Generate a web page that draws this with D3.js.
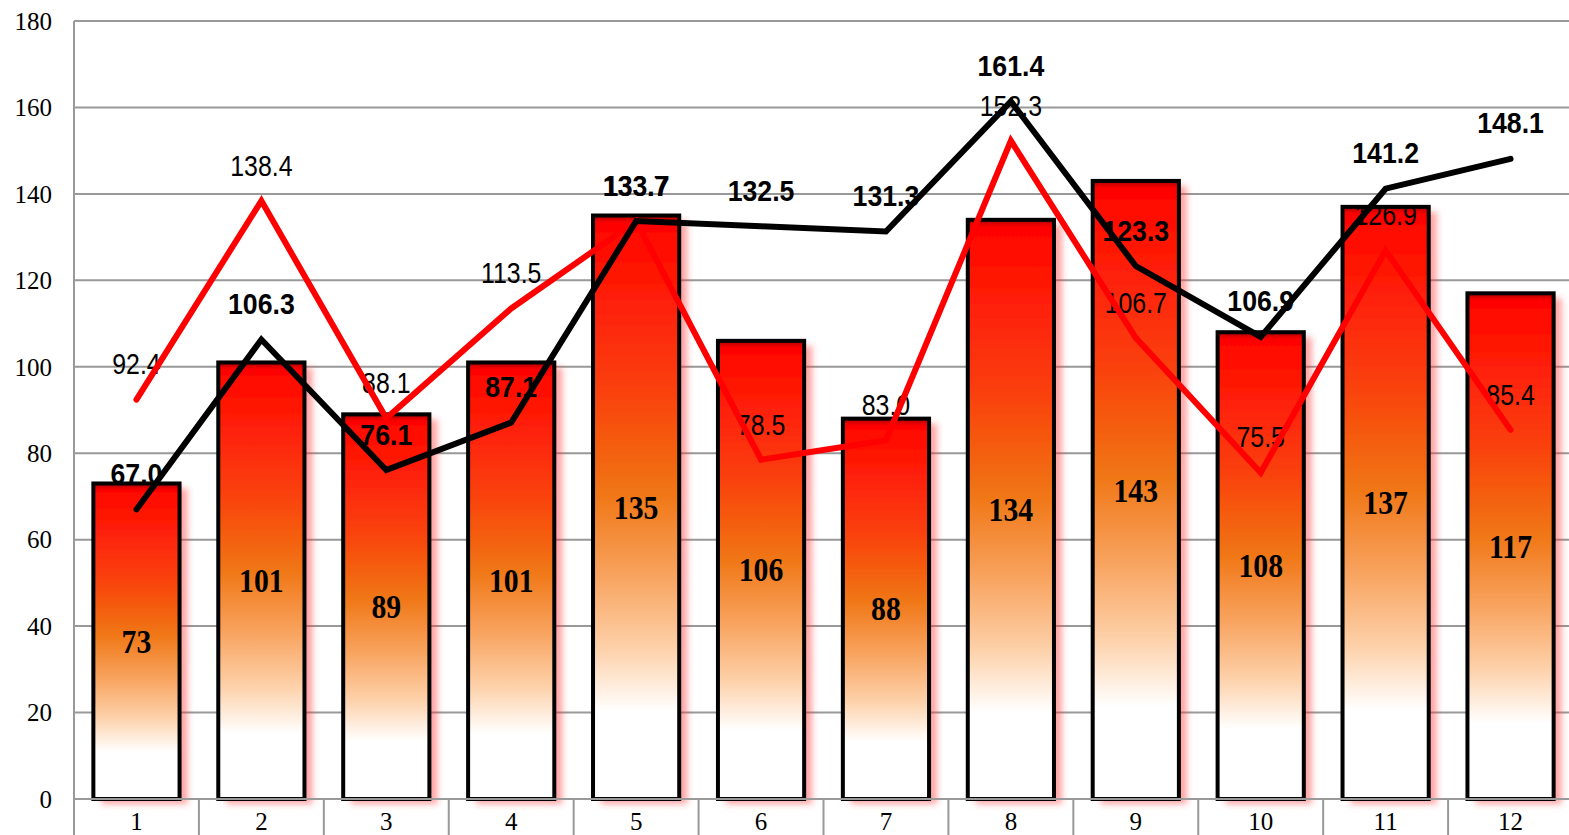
<!DOCTYPE html>
<html>
<head>
<meta charset="utf-8">
<script src="https://cdn.jsdelivr.net/npm/d3@7"></script>
<style>
  html, body { margin: 0; padding: 0; background: #fff; overflow: hidden; }
</style>
</head>
<body>
<svg id="plot"></svg>
<script>
// data
const months = ["1", "2", "3", "4", "5", "6", "7", "8", "9", "10", "11", "12"];
const barValues = [73, 101, 89, 101, 135, 106, 88, 134, 143, 108, 137, 117];
const redValues = [92.4, 138.4, 88.1, 113.5, 133.7, 78.5, 83.0, 152.3, 106.7, 75.5, 126.9, 85.4];
const blackValues = [67.0, 106.3, 76.1, 87.1, 133.7, 132.5, 131.3, 161.4, 123.3, 106.9, 141.2, 148.1];
const yTicks = [0, 20, 40, 60, 80, 100, 120, 140, 160, 180];

let width = 1569;
let height = 835;
let margin = { top: 21, bottom: 36, left: 74, right: -4 };

let svg = d3.select('#plot')
    .attr('width', width)
    .attr('height', height)
    .style('background', '#FFFFFF');

let xScale = d3.scaleBand()
    .domain(months)
    .range([margin.left, width - margin.right])
    .padding(0);

let yScale = d3.scaleLinear()
    .domain([0, 180])
    .range([height - margin.bottom, margin.top]);

let defs = svg.append('defs');

let grad = defs.append('linearGradient')
    .attr('id', 'barGrad')
    .attr('x1', 0).attr('y1', 0).attr('x2', 0).attr('y2', 1);
[[0, '#ff0000'], [0.12, '#ff1a06'], [0.3, '#fa4010'], [0.47, '#f07412'],
 [0.62, '#f8a460'], [0.74, '#fdd0a8'], [0.85, '#ffffff'], [1, '#ffffff']]
    .forEach(s => grad.append('stop').attr('offset', s[0]).attr('stop-color', s[1]));

let bevel = defs.append('linearGradient')
    .attr('id', 'bevel')
    .attr('x1', 0).attr('y1', 0).attr('x2', 0).attr('y2', 1);
bevel.append('stop').attr('offset', 0).attr('stop-color', '#600000').attr('stop-opacity', 0.7);
bevel.append('stop').attr('offset', 1).attr('stop-color', '#ff0000').attr('stop-opacity', 0);

let shadow = defs.append('filter')
    .attr('id', 'shadow')
    .attr('x', '-20%').attr('y', '-10%').attr('width', '150%').attr('height', '130%');
shadow.append('feDropShadow')
    .attr('dx', 8).attr('dy', 5)
    .attr('stdDeviation', 3)
    .attr('flood-color', '#ff3030')
    .attr('flood-opacity', 0.45);

// gridlines
svg.append('g')
    .selectAll('line')
    .data(yTicks)
    .enter()
    .append('line')
    .attr('x1', margin.left)
    .attr('x2', width)
    .attr('y1', d => yScale(d))
    .attr('y2', d => yScale(d))
    .attr('stroke', '#999999')
    .attr('stroke-width', 2);

// y axis labels
svg.append('g')
    .selectAll('text')
    .data(yTicks)
    .enter()
    .append('text')
    .attr('x', 52)
    .attr('y', d => yScale(d))
    .attr('dy', '0.35em')
    .attr('text-anchor', 'end')
    .style('font-family', '"Liberation Serif", serif')
    .style('font-size', '25px')
    .attr('fill', '#000')
    .text(d => d);

// left axis line
svg.append('line')
    .attr('x1', margin.left).attr('x2', margin.left)
    .attr('y1', margin.top).attr('y2', height)
    .attr('stroke', '#999999')
    .attr('stroke-width', 2);

// category dividers below the baseline
svg.append('g')
    .selectAll('line')
    .data(months.slice(1))
    .enter()
    .append('line')
    .attr('x1', d => xScale(d))
    .attr('x2', d => xScale(d))
    .attr('y1', yScale(0))
    .attr('y2', height)
    .attr('stroke', '#999999')
    .attr('stroke-width', 2);

// x labels
svg.append('g')
    .selectAll('text')
    .data(months)
    .enter()
    .append('text')
    .attr('x', d => xScale(d) + xScale.bandwidth() / 2)
    .attr('y', 830)
    .attr('text-anchor', 'middle')
    .style('font-family', '"Liberation Serif", serif')
    .style('font-size', '25px')
    .attr('fill', '#000')
    .text(d => d);

const cx = i => xScale(months[i]) + xScale.bandwidth() / 2;

// bars
const barW = xScale.bandwidth() * 0.69;
let bars = svg.append('g');
let barG = bars.selectAll('g')
    .data(barValues)
    .enter()
    .append('g');

barG.append('rect')
    .attr('x', (d, i) => xScale(months[i]) + (xScale.bandwidth() - barW) / 2)
    .attr('y', d => yScale(d))
    .attr('width', barW)
    .attr('height', d => yScale(0) - yScale(d))
    .attr('fill', 'url(#barGrad)')
    .attr('filter', 'url(#shadow)');

barG.append('rect')
    .attr('x', (d, i) => xScale(months[i]) + (xScale.bandwidth() - barW) / 2)
    .attr('y', d => yScale(d))
    .attr('width', barW)
    .attr('height', 9)
    .attr('fill', 'url(#bevel)');

barG.append('rect')
    .attr('x', (d, i) => xScale(months[i]) + (xScale.bandwidth() - barW) / 2)
    .attr('y', d => yScale(d))
    .attr('width', barW)
    .attr('height', d => yScale(0) - yScale(d))
    .attr('fill', 'none')
    .attr('stroke', '#000')
    .attr('stroke-width', 4);

barG.append('text')
    .attr('transform', (d, i) => `translate(${cx(i)},${(yScale(d) + yScale(0)) / 2}) scale(0.9,1)`)
    .attr('dy', '0.35em')
    .attr('text-anchor', 'middle')
    .style('font-family', '"Liberation Serif", serif')
    .style('font-weight', 'bold')
    .style('font-size', '33px')
    .attr('fill', '#000')
    .text(d => d);

// baseline
svg.append('line')
    .attr('x1', margin.left).attr('x2', width)
    .attr('y1', yScale(0)).attr('y2', yScale(0))
    .attr('stroke', '#999999')
    .attr('stroke-width', 2);

// line labels
svg.append('g')
    .selectAll('text')
    .data(redValues)
    .enter()
    .append('text')
    .attr('transform', (d, i) => `translate(${cx(i)},${yScale(d) - 36}) scale(0.83,1)`)
    .attr('dy', '0.36em')
    .attr('text-anchor', 'middle')
    .style('font-family', '"Liberation Sans", sans-serif')
    .style('font-size', '30px')
    .attr('fill', '#000')
    .text(d => d.toFixed(1));

svg.append('g')
    .selectAll('text')
    .data(blackValues)
    .enter()
    .append('text')
    .attr('transform', (d, i) => `translate(${cx(i)},${yScale(d) - 36}) scale(0.92,1)`)
    .attr('dy', '0.36em')
    .attr('text-anchor', 'middle')
    .style('font-family', '"Liberation Sans", sans-serif')
    .style('font-weight', 'bold')
    .style('font-size', '29px')
    .attr('fill', '#000')
    .text(d => d.toFixed(1));

// lines
let line = d3.line()
    .x((d, i) => cx(i))
    .y(d => yScale(d));

svg.append('path')
    .datum(redValues)
    .attr('d', line)
    .attr('fill', 'none')
    .attr('stroke', '#ff0000')
    .attr('stroke-width', 6)
    .attr('stroke-linecap', 'round')
    .attr('stroke-linejoin', 'miter');

svg.append('path')
    .datum(blackValues)
    .attr('d', line)
    .attr('fill', 'none')
    .attr('stroke', '#000000')
    .attr('stroke-width', 6)
    .attr('stroke-linecap', 'round')
    .attr('stroke-linejoin', 'miter');
</script>
</body>
</html>
